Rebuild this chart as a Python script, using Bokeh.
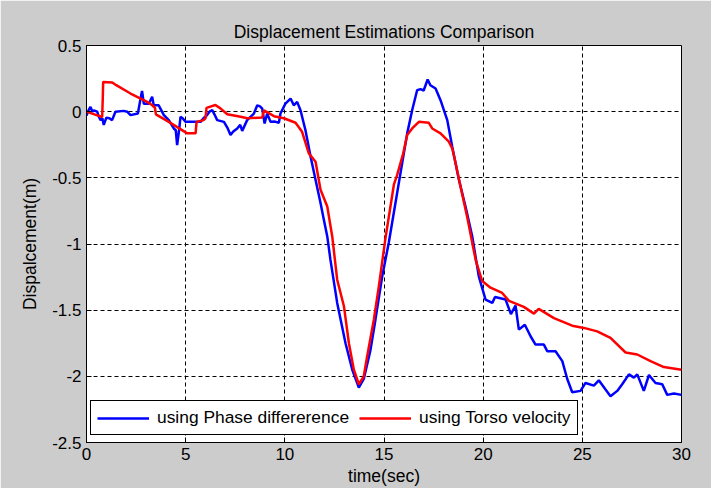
from bokeh.plotting import figure
from bokeh.models import Range1d, FixedTicker, Legend, LegendItem
from bokeh.embed import file_html
from bokeh.resources import INLINE

# ---- data ----
t_phase = [0, 0.1, 0.2, 0.3, 0.37, 0.54, 0.6, 0.71, 0.8, 0.87, 1.0, 1.15, 1.29, 1.46, 1.88, 2.05,
           2.22, 2.59, 2.69, 2.8, 2.89, 3.14, 3.31, 3.39, 3.64, 3.9, 4.15, 4.4, 4.5, 4.57, 4.66,
           4.74, 4.85, 4.99, 5.5, 5.75, 5.9, 6.08, 6.2, 6.34, 6.45, 6.59, 6.93, 7.1, 7.26, 7.4,
           7.6, 7.75, 7.85, 8.1, 8.44, 8.61, 8.75, 8.86, 8.98, 9.11, 9.28, 9.5, 9.7, 9.78, 10.03,
           10.29, 10.45, 10.62, 10.79, 11.04, 11.3, 11.55, 11.8, 11.97, 12.14, 12.3, 12.64, 13.06,
           13.4, 13.73, 13.98, 14.32, 14.57, 14.91, 15.24, 15.66, 16.17, 16.42, 16.67, 16.84, 17.0,
           17.2, 17.34, 17.6, 17.85, 18.19, 18.44, 18.78, 19.11, 19.45, 19.78, 20.12, 20.46, 20.6,
           21.13, 21.4, 21.63, 21.8, 22.1, 22.39, 22.64, 23.06, 23.23, 23.65, 23.99, 24.24, 24.49,
           24.91, 25.16, 25.58, 25.83, 26.17, 26.42, 26.76, 27.01, 27.35, 27.6, 27.77, 28.1, 28.36,
           28.69, 29.03, 29.28, 29.62, 30.0]
d_phase = [-0.03, 0.01, 0.036, 0.0, 0.01, 0.0, -0.03, -0.064, -0.05, -0.1, -0.045, -0.05, -0.064,
           0.0, 0.006, 0.0, -0.026, -0.014, 0.07, 0.157, 0.06, 0.06, 0.112, 0.048, 0.048, -0.026,
           -0.064, -0.127, -0.14, -0.252, -0.15, -0.039, -0.05, -0.077, -0.077, -0.077, -0.05,
           -0.026, 0.0, 0.011, -0.02, -0.064, -0.077, -0.12, -0.177, -0.15, -0.127, -0.1, -0.145,
           -0.064, -0.014, 0.048, 0.04, 0.023, -0.089, -0.014, -0.077, -0.075, -0.084, -0.014,
           0.061, 0.099, 0.048, 0.074, 0.011, -0.14, -0.34, -0.516, -0.69, -0.818, -0.943, -1.12,
           -1.445, -1.75, -1.95, -2.085, -2.02, -1.8, -1.57, -1.245, -0.99, -0.617, -0.164, 0.011,
           0.162, 0.17, 0.16, 0.243, 0.2, 0.175, 0.087, -0.064, -0.265, -0.516, -0.717, -0.943,
           -1.245, -1.42, -1.445, -1.40, -1.42, -1.53, -1.465, -1.647, -1.61, -1.697, -1.76, -1.76,
           -1.81, -1.81, -1.885, -2.02, -2.12, -2.11, -2.05, -2.07, -2.03, -2.1, -2.15, -2.11,
           -2.06, -1.985, -2.01, -1.985, -2.11, -1.99, -2.05, -2.06, -2.14, -2.13, -2.14]

t_torso = [0, 0.4, 0.79, 0.82, 0.84, 1.3, 1.5, 2.22, 3.06, 3.3, 3.45, 3.5, 4.15, 5.08, 5.5, 5.55,
           5.9, 6.0, 6.05, 6.5, 6.75, 7.1, 7.77, 8.1, 8.86, 8.95, 9.45, 9.95, 10.54, 10.87, 11.21,
           11.55, 11.8, 12.14, 12.39, 12.64, 12.98, 13.23, 13.48, 13.73, 13.98, 14.15, 14.49,
           14.74, 15.08, 15.5, 15.66, 15.97, 16.17, 16.42, 16.76, 17.26, 17.43, 17.85, 18.27,
           18.44, 18.61, 18.86, 19.2, 19.62, 19.95, 20.37, 20.96, 21.3, 22.05, 22.56, 22.8, 23.57,
           24.49, 25.08, 25.75, 26.42, 27.18, 27.77, 28.44, 29.11, 30.0]
d_torso = [0.0, -0.02, -0.04, 0.1, 0.225, 0.22, 0.2, 0.137, 0.074, 0.05, 0.03, -0.02, -0.077,
           -0.164, -0.164, -0.077, -0.064, -0.05, 0.029, 0.05, 0.025, -0.019, -0.039, -0.05,
           -0.044, 0.011, -0.034, -0.05, -0.084, -0.152, -0.315, -0.378, -0.59, -0.717, -0.943,
           -1.27, -1.47, -1.75, -1.95, -2.06, -2.0, -1.85, -1.57, -1.32, -0.95, -0.55, -0.48,
           -0.315, -0.177, -0.127, -0.077, -0.084, -0.127, -0.164, -0.227, -0.277, -0.39, -0.567,
           -0.8, -1.12, -1.28, -1.33, -1.37, -1.43, -1.475, -1.526, -1.49, -1.56, -1.617, -1.634,
           -1.66, -1.71, -1.82, -1.835, -1.885, -1.93, -1.95]

x_ticks = [0, 5, 10, 15, 20, 25, 30]
y_ticks = [0.5, 0, -0.5, -1, -1.5, -2, -2.5]
y_tick_labels = ["0.5", "0", "-0.5", "-1", "-1.5", "-2", "-2.5"]

title_text = "Displacement Estimations Comparison"
x_label = "time(sec)"
y_label = "Dispalcement(m)"
series_names = ["using Phase differerence", "using Torso velocity"]

FONT = "Liberation Sans"

p = figure(width=711, height=488, output_backend="svg", toolbar_location=None,
           x_range=Range1d(0, 30), y_range=Range1d(-2.5, 0.5),
           min_border_left=86, min_border_right=30, min_border_top=45, min_border_bottom=44,
           title=title_text)

p.border_fill_color = "#cccccc"
p.background_fill_color = "white"
p.outline_line_color = "black"
p.outline_line_width = 1

p.title.align = "center"
p.title.text_font = FONT
p.title.text_font_size = "17.5px"
p.title.text_font_style = "normal"
p.title.text_color = "black"
p.title.standoff = 8

for ax in (p.xaxis[0], p.yaxis[0]):
    ax.major_label_text_font = FONT
    ax.major_label_text_font_size = "17px"
    ax.major_label_text_color = "black"
    ax.axis_label_text_font = FONT
    ax.axis_label_text_font_size = "17.5px"
    ax.axis_label_text_font_style = "normal"
    ax.axis_label_text_color = "black"
    ax.major_tick_in = 5
    ax.major_tick_out = 0
    ax.minor_tick_line_color = None
    ax.axis_line_color = "black"
    ax.major_tick_line_color = "black"
    ax.major_label_standoff = 5

p.xaxis[0].ticker = FixedTicker(ticks=x_ticks)
p.yaxis[0].ticker = FixedTicker(ticks=y_ticks)
p.yaxis[0].major_label_overrides = dict(zip(y_ticks, y_tick_labels))
p.xaxis[0].axis_label = x_label
p.yaxis[0].axis_label = y_label
p.xaxis[0].axis_label_standoff = 3
p.yaxis[0].axis_label_standoff = 9

for g in (p.xgrid[0], p.ygrid[0]):
    g.grid_line_color = "black"
    g.grid_line_dash = "4 3"
    g.grid_line_width = 1
    g.grid_line_alpha = 1.0
p.xgrid[0].ticker = FixedTicker(ticks=x_ticks)
p.ygrid[0].ticker = FixedTicker(ticks=y_ticks)

r1 = p.line(t_phase, d_phase, line_color="#0000ff", line_width=2.5)
r2 = p.line(t_torso, d_torso, line_color="#ff0000", line_width=2.5)

legend = Legend(items=[LegendItem(label=series_names[0], renderers=[r1]),
                       LegendItem(label=series_names[1], renderers=[r2])],
                orientation="horizontal", location=(4, 7))
legend.label_text_font = FONT
legend.label_text_font_size = "17.4px"
legend.label_text_color = "black"
legend.border_line_color = "black"
legend.border_line_width = 1
legend.border_line_alpha = 1.0
legend.background_fill_color = "white"
legend.background_fill_alpha = 1.0
legend.glyph_width = 52
legend.glyph_height = 18
legend.label_standoff = 8
legend.spacing = 10
legend.padding = 6
legend.margin = 0
p.add_layout(legend, "center")

open("out.html", "w").write(file_html(p, INLINE))
